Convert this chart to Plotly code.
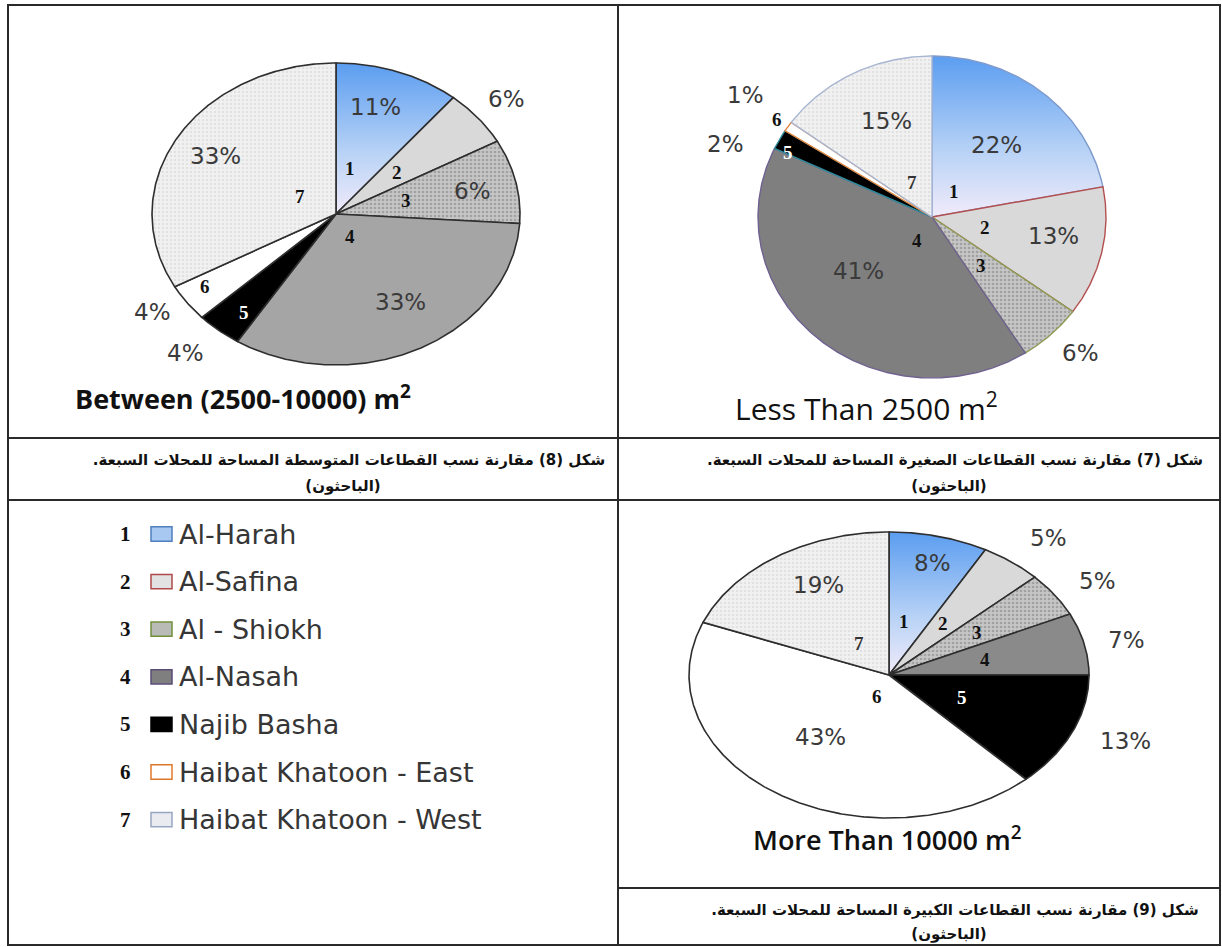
import numpy as np
import plotly.graph_objects as go

W, H = 1222, 947

# ---------------- data ----------------
sector_ids = ["1", "2", "3", "4", "5", "6", "7"]
sector_names = ["Al-Harah", "Al-Safina", "Al - Shiokh", "Al-Nasah", "Najib Basha",
                "Haibat Khatoon - East", "Haibat Khatoon - West"]

medium_values = [11, 6, 9, 33, 4, 4, 33]
medium_labels = ["11%", "6%", "6%", "33%", "4%", "4%", "33%"]

small_values = [22, 13, 6, 41, 2, 1, 15]
small_labels = ["22%", "13%", "6%", "41%", "2%", "1%", "15%"]

large_values = [8, 5, 5, 7, 13, 43, 19]
large_labels = ["8%", "5%", "5%", "7%", "13%", "43%", "19%"]

medium_title = "Between (2500-10000) m<sup>2</sup>"
small_title = "Less Than 2500 m<sup>2</sup>"
large_title = "More Than 10000 m<sup>2</sup>"

RLM = "\u200f"
caption_medium = "شكل (8) مقارنة نسب القطاعات المتوسطة المساحة للمحلات السبعة."
caption_small = "شكل (7) مقارنة نسب القطاعات الصغيرة المساحة للمحلات السبعة."
caption_large = "شكل (9) مقارنة نسب القطاعات الكبيرة المساحة للمحلات السبعة."
caption_source = "(الباحثون)"

# ---------------- styles ----------------
BLUE_GRAD = dict(type="vertical",
                 colorscale=[[0, "#f1ebfa"], [0.4, "#b9d3f6"], [1, "#5b9df0"]],
                 start=0, stop=1)
PAT3 = dict(shape=".", bgcolor="#c6c6c6", fgcolor="#7c7c7c", size=4, solidity=0.35)
PAT7 = dict(shape=".", bgcolor="#f1f1f1", fgcolor="#cfcfcf", size=4, solidity=0.32)

fig = go.Figure()
annotations = []
shapes = []
layout_axes = {}


def px_x(p):
    return p / W


def px_y(p):
    return 1 - p / H


def add_pie(k, values, labels, cx, cy, rx, ry, cell, slice4_color, line_colors, line_width,
            pct_r, pct_da, num_r, num_da, num_colors, pct_size=23):
    xn = "x" if k == 1 else f"x{k}"
    yn = "y" if k == 1 else f"y{k}"
    xl = "xaxis" if k == 1 else f"xaxis{k}"
    yl = "yaxis" if k == 1 else f"yaxis{k}"
    x0c, x1c, y0c, y1c = cell
    layout_axes[xl] = dict(domain=[px_x(x0c), px_x(x1c)],
                           range=[(x0c - cx) / rx, (x1c - cx) / rx],
                           visible=False, fixedrange=True)
    layout_axes[yl] = dict(domain=[px_y(y1c), px_y(y0c)],
                           range=[(cy - y1c) / ry, (cy - y0c) / ry],
                           visible=False, fixedrange=True)
    total = float(sum(values))
    cum = np.concatenate([[0], np.cumsum(values)]) / total * 360.0
    for i in range(len(values)):
        a0, a1 = cum[i], cum[i + 1]
        n = max(3, int((a1 - a0) * 2) + 2)
        th = np.radians(np.linspace(a0, a1, n))
        xs = np.concatenate([[0], np.sin(th), [0]])
        ys = np.concatenate([[0], np.cos(th), [0]])
        kw = dict(x=xs, y=ys, mode="lines", fill="toself", xaxis=xn, yaxis=yn,
                  line=dict(color=line_colors[i], width=line_width),
                  hoverinfo="skip", showlegend=False, name=sector_names[i])
        if i == 0:
            kw["fillcolor"] = "#9cc2f3"
            kw["fillgradient"] = BLUE_GRAD
        elif i == 1:
            kw["fillcolor"] = "#d9d9d9"
        elif i == 2:
            kw["fillcolor"] = "#c0c0c0"
            kw["fillpattern"] = PAT3
        elif i == 3:
            kw["fillcolor"] = slice4_color
        elif i == 4:
            kw["fillcolor"] = "#000000"
        elif i == 5:
            kw["fillcolor"] = "#ffffff"
        else:
            kw["fillcolor"] = "#f0f0f0"
            kw["fillpattern"] = PAT7
        fig.add_trace(go.Scatter(**kw))
    for i in range(len(values)):
        mid = (cum[i] + cum[i + 1]) / 2
        a = np.radians(mid + pct_da[i])
        annotations.append(dict(x=pct_r[i] * np.sin(a), y=pct_r[i] * np.cos(a), xref=xn, yref=yn,
                                text=labels[i], showarrow=False, xanchor="center", yanchor="middle",
                                font=dict(family="DejaVu Sans", size=pct_size, color="#3a3a3a")))
        a = np.radians(mid + num_da[i])
        annotations.append(dict(x=num_r[i] * np.sin(a), y=num_r[i] * np.cos(a), xref=xn, yref=yn,
                                text="<b>" + sector_ids[i] + "</b>", showarrow=False,
                                xanchor="center", yanchor="middle",
                                font=dict(family="Liberation Serif", size=19, color=num_colors[i])))


DARK = "#2e2e2e"
# Pie 1: between 2500-10000
add_pie(1, medium_values, medium_labels, cx=336, cy=214, rx=184, ry=151,
        cell=(9, 617, 6, 437), slice4_color="#a5a5a5",
        line_colors=[DARK] * 7, line_width=1.6,
        pct_r=[0.74, 1.2, 0.76, 0.68, 1.23, 1.19, 0.76],
        pct_da=[-3, 0, 1, -4, 2, 3, 0],
        num_r=[0.31, 0.43, 0.39, 0.17, 0.82, 0.86, 0.23],
        num_da=[-6, 0, -1, 0, -2, 2, 0],
        num_colors=["#111", "#111", "#111", "#111", "#ffffff", "#111", "#111"])

# Pie 2: less than 2500
add_pie(2, small_values, small_labels, cx=932, cy=217, rx=174, ry=161,
        cell=(619, 1219, 6, 437), slice4_color="#7f7f7f",
        line_colors=["#7f9bcb", "#b34f4f", "#8e9c55", "#6f6190", "#2f8a9c", "#e0843c", "#a8b6d2"],
        line_width=1.4,
        pct_r=[0.58, 0.71, 1.2, 0.54, 1.27, 1.31, 0.65],
        pct_da=[0, -3, -2, 10, -8, 1, 3],
        num_r=[0.2, 0.31, 0.41, 0.17, 0.92, 1.08, 0.24],
        num_da=[-1, 0, 0, -10, -3, 0, -1],
        num_colors=["#111", "#111", "#111", "#111", "#ffffff", "#111", "#333"])

# Pie 3: more than 10000
add_pie(3, large_values, large_labels, cx=889, cy=675, rx=200, ry=143,
        cell=(619, 1219, 501, 887), slice4_color="#8a8a8a",
        line_colors=[DARK] * 7, line_width=1.6,
        pct_r=[0.81, 1.245, 1.23, 1.21, 1.27, 0.55, 0.72],
        pct_da=[1, 2, 2, 1, -2, 4, 5],
        num_r=[0.38, 0.45, 0.53, 0.49, 0.40, 0.16, 0.27],
        num_da=[-3, -1, 0, 0, 0, -12, 0],
        num_colors=["#111", "#111", "#111", "#111", "#ffffff", "#111", "#333"])

# ---------------- legend (own axis, rows by index) ----------------
ROW0, STEP = 534, 47.6
layout_axes["xaxis4"] = dict(domain=[px_x(9), px_x(617)], range=[9, 617], visible=False, fixedrange=True)
layout_axes["yaxis4"] = dict(domain=[px_y(944), px_y(501)],
                             range=[(944 - ROW0) / STEP, (501 - ROW0) / STEP],
                             visible=False, fixedrange=True)
swatch_fill = ["#a9c8f1", "#e2e2e2", "#b9bbb6", "#7f7f7f", "#000000", "#ffffff", "#e9ebf1"]
swatch_line = ["#4f7fbf", "#b04a4a", "#72903c", "#5a4d78", "#000000", "#e0782c", "#98a6c2"]
for i, name in enumerate(sector_names):
    annotations.append(dict(x=125, y=i, xref="x4", yref="y4", text="<b>" + sector_ids[i] + "</b>",
                            showarrow=False, xanchor="center", yanchor="middle",
                            font=dict(family="Liberation Serif", size=21, color="#111")))
    shapes.append(dict(type="rect", xref="x4", yref="y4", x0=151, x1=172, y0=i - 0.15, y1=i + 0.15,
                       fillcolor=swatch_fill[i], line=dict(color=swatch_line[i], width=1.5)))
    annotations.append(dict(x=177, y=i, xref="x4", yref="y4", text=name, xanchor="left",
                            yanchor="middle", showarrow=False,
                            font=dict(family="DejaVu Sans", size=27, color="#363636")))

# ---------------- titles ----------------
annotations.append(dict(x=px_x(243), y=px_y(398), xref="paper", yref="paper", text=medium_title,
                        showarrow=False, xanchor="center", yanchor="middle",
                        font=dict(family="Open Sans", size=27, color="#111", weight=700)))
annotations.append(dict(x=px_x(866), y=px_y(407), xref="paper", yref="paper", text=small_title,
                        showarrow=False, xanchor="center", yanchor="middle",
                        font=dict(family="Open Sans", size=30, color="#111", weight=500)))
annotations.append(dict(x=px_x(887), y=px_y(838), xref="paper", yref="paper", text=large_title,
                        showarrow=False, xanchor="center", yanchor="middle",
                        font=dict(family="Open Sans", size=27, color="#111", weight=600)))

# ---------------- captions (text trace on a page-sized pixel axis) ----------------
layout_axes["xaxis5"] = dict(domain=[0, 1], range=[0, W], visible=False, fixedrange=True)
layout_axes["yaxis5"] = dict(domain=[0, 1], range=[H, 0], visible=False, fixedrange=True)
cap_x, cap_y, cap_t = [], [], []
for cell_c, y1, y2, cap in [(313, 461, 487, caption_medium), (919, 461, 487, caption_small),
                            (919, 911, 935, caption_large)]:
    cap_x += [cell_c + 36, cell_c + 30]
    cap_y += [y1, y2]
    cap_t += [cap + RLM, caption_source]
fig.add_trace(go.Scatter(x=cap_x, y=cap_y, text=cap_t, mode="text", textposition="middle center",
                         textfont=dict(family="DejaVu Sans", size=15, color="#111", weight=700),
                         xaxis="x5", yaxis="y5", hoverinfo="skip", showlegend=False, cliponaxis=False))

# ---------------- table grid ----------------
LC = "#2a2a2a"
shapes.append(dict(type="rect", xref="paper", yref="paper", x0=px_x(8), x1=px_x(1220),
                   y0=px_y(945), y1=px_y(5), line=dict(color=LC, width=2)))
shapes.append(dict(type="line", xref="paper", yref="paper", x0=px_x(618), x1=px_x(618),
                   y0=px_y(945), y1=px_y(5), line=dict(color=LC, width=2)))
for yy in (438, 500):
    shapes.append(dict(type="line", xref="paper", yref="paper", x0=px_x(8), x1=px_x(1220),
                       y0=px_y(yy), y1=px_y(yy), line=dict(color=LC, width=2)))
shapes.append(dict(type="line", xref="paper", yref="paper", x0=px_x(618), x1=px_x(1220),
                   y0=px_y(888), y1=px_y(888), line=dict(color=LC, width=2)))

fig.update_layout(width=W, height=H, margin=dict(l=0, r=0, t=0, b=0),
                  paper_bgcolor="white", plot_bgcolor="rgba(0,0,0,0)",
                  showlegend=False, annotations=annotations, shapes=shapes, **layout_axes)

fig.write_html("out.html", config={"displayModeBar": False})
